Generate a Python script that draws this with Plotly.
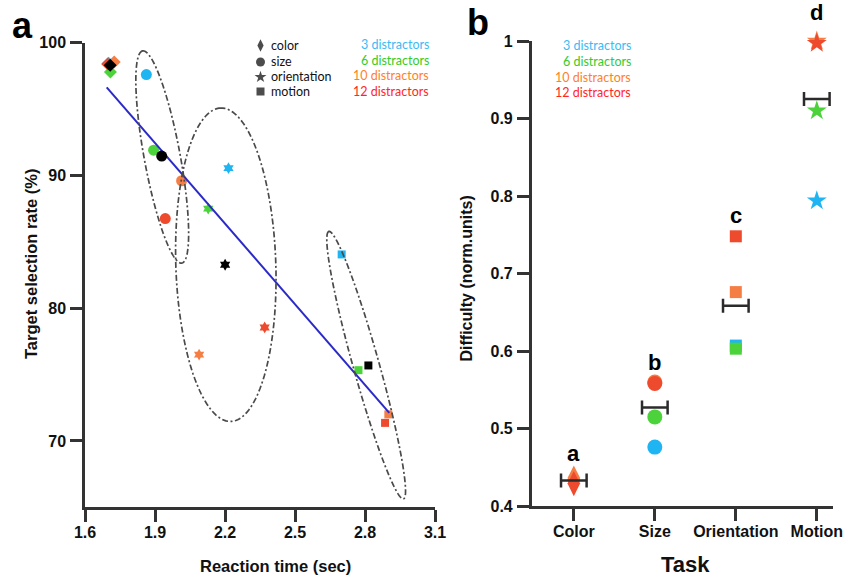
import numpy as np
import plotly.graph_objects as go

W, H = 844, 577

# ---------------- data ----------------
levels = ["3 distractors", "6 distractors", "10 distractors", "12 distractors"]
point_colors = ["#1FB5F2", "#4CD23A", "#F57E45", "#EE4A2E"]
label_colors = ["#3BBBF5", "#35CB2A", "#FF7F2A", "#FF2626"]

features = ["color", "size", "orientation", "motion"]

# panel a: reaction time (sec) per feature, ordered by distractor count
rt_color = [1.701, 1.709, 1.725, 1.697]
rt_size = [1.863, 1.894, 2.014, 1.944]
rt_orientation = [2.215, 2.128, 2.089, 2.370]
rt_motion = [2.700, 2.772, 2.900, 2.886]

# panel a: target selection rate (%) per feature, ordered by distractor count
sel_color = [98.45, 97.80, 98.55, 98.40]
sel_size = [97.60, 91.90, 89.60, 86.75]
sel_orientation = [90.55, 87.50, 76.50, 78.55]
sel_motion = [84.05, 75.33, 72.00, 71.36]

# linear trend drawn across panel a
fit_rt = [1.693, 2.904]
fit_sel = [96.64, 72.12]

# panel b: normalised difficulty per task, ordered by distractor count
tasks = ["Color", "Size", "Orientation", "Motion"]
diff_color = [0.433, 0.434, 0.436, 0.429]
diff_size = [0.476, 0.515, 0.560, 0.558]
diff_orientation = [0.607, 0.603, 0.676, 0.748]
diff_motion = [0.794, 0.910, 1.000, 0.997]
group_letters = ["a", "b", "c", "d"]
letter_y = [0.468, 0.585, 0.775, 1.037]

# ---------------- layout geometry ----------------
xa_dom = [85 / W, 435 / W]
ya_dom = [1 - 507.3 / H, 1 - 42.7 / H]
xa_rng = [1.6, 3.1]
ya_rng = [65, 100]
xb_dom = [531.7 / W, 833 / W]
yb_dom = [1 - 506 / H, 1 - 41 / H]
xb_rng = [-0.52, 3.2]
yb_rng = [0.4, 1.0]

BOLD = "Liberation Sans, Arial, sans-serif"
LIGHT = "Lato, Open Sans, sans-serif"
AX = "#333333"

rt_sets = [rt_color, rt_size, rt_orientation, rt_motion]
sel_sets = [sel_color, sel_size, sel_orientation, sel_motion]
diff_sets = [diff_color, diff_size, diff_orientation, diff_motion]
sym_a = ["diamond", "circle", "hexagram", "square"]
size_a = [10, 11, 9, 8]
sym_b = ["diamond-tall", "circle", "square", "star"]
size_b = [18, 15, 12, 15]

fig = go.Figure()

# panel a: coloured points, one trace per distractor count
for li, lvl in enumerate(levels):
    for fi in range(4):
        fig.add_trace(go.Scatter(
            x=[rt_sets[fi][li]], y=[sel_sets[fi][li]], mode="markers",
            marker=dict(symbol=sym_a[fi], size=size_a[fi], color=point_colors[li],
                        line=dict(width=0)),
            xaxis="x", yaxis="y", showlegend=False, cliponaxis=False,
            hovertemplate=f"{features[fi]}, {lvl}<br>%{{x}} s, %{{y}} %<extra></extra>"))

# regression line
fig.add_trace(go.Scatter(x=fit_rt, y=fit_sel, mode="lines",
                         line=dict(color="#2A2AC8", width=2),
                         xaxis="x", yaxis="y", showlegend=False, hoverinfo="skip"))

# black markers: per-feature mean
for fi in range(4):
    fig.add_trace(go.Scatter(
        x=[float(np.mean(rt_sets[fi]))], y=[float(np.mean(sel_sets[fi]))], mode="markers",
        marker=dict(symbol=sym_a[fi], size=size_a[fi], color="#000000", line=dict(width=0)),
        xaxis="x", yaxis="y", showlegend=False, cliponaxis=False))

# panel b: coloured points per task
for li, lvl in enumerate(levels):
    for ti in range(4):
        fig.add_trace(go.Scatter(
            x=[ti], y=[diff_sets[ti][li]], mode="markers",
            marker=dict(symbol=sym_b[ti], size=size_b[ti], color=point_colors[li],
                        line=dict(width=0)),
            xaxis="x2", yaxis="y2", showlegend=False, cliponaxis=False,
            hovertemplate=f"{tasks[ti]}, {lvl}<br>%{{y}}<extra></extra>"))

# panel b: mean of each task shown as a horizontal bar with caps
fig.add_trace(go.Scatter(
    x=list(range(4)), y=[float(np.mean(d)) for d in diff_sets], mode="markers",
    marker=dict(size=1, color="rgba(0,0,0,0)"),
    error_x=dict(type="constant", value=0.158, thickness=2.5, width=7, color="#2b2b2b"),
    xaxis="x2", yaxis="y2", showlegend=False, cliponaxis=False))

# feature-symbol key for panel a (pixel overlay axis)
key_y = [45.5, 62, 77, 91.5]
key_sym = ["diamond-tall", "circle", "star", "square"]
key_size = [9, 9, 9, 8]
fig.add_trace(go.Scatter(
    x=[260.5] * 4, y=key_y, mode="markers",
    marker=dict(symbol=key_sym, size=key_size, color="#000000", line=dict(width=0)),
    xaxis="x3", yaxis="y3", showlegend=False, hoverinfo="skip", cliponaxis=False))


# dash-dot group outlines around each feature cluster in panel a
sx = (xa_dom[1] - xa_dom[0]) * W / (xa_rng[1] - xa_rng[0])
sy = (ya_dom[1] - ya_dom[0]) * H / (ya_rng[1] - ya_rng[0])


def ellipse_path(top, bottom, half_minor, n=160):
    p1 = np.array([top[0] * sx, top[1] * sy])
    p2 = np.array([bottom[0] * sx, bottom[1] * sy])
    c = (p1 + p2) / 2
    d = p1 - p2
    a = np.linalg.norm(d) / 2
    u = d / (2 * a)
    v = np.array([-u[1], u[0]])
    t = np.linspace(0, 2 * np.pi, n)
    pts = c[None, :] + (a * np.cos(t))[:, None] * u[None, :] + (half_minor * np.sin(t))[:, None] * v[None, :]
    xs = pts[:, 0] / sx
    ys = pts[:, 1] / sy
    return "M " + " L ".join(f"{x:.5f},{y:.4f}" for x, y in zip(xs, ys)) + " Z"


outlines = [((1.847, 99.38), (2.015, 83.40), 18),
            ((2.182, 95.08), (2.225, 71.47), 50),
            ((2.645, 85.78), (2.965, 65.63), 13)]
shapes = []
for top, bottom, b in outlines:
    shapes.append(dict(type="path", xref="x", yref="y", path=ellipse_path(top, bottom, b),
                       line=dict(color="#4a4a4a", width=1.7, dash="6px,2.5px,2px,2.5px"),
                       layer="above"))

annotations = []


def txt(text, x, y, size, color="#111111", family=BOLD, bold=True, xanchor="center",
        angle=0):
    annotations.append(dict(text=text, x=x / W, y=1 - y / H, xref="paper", yref="paper",
                            showarrow=False, xanchor=xanchor, yanchor="middle",
                            textangle=angle,
                            font=dict(family=family, size=size, color=color,
                                      weight="bold" if bold else "normal")))


# panel letters
txt("a", 22.5, 26, 36, color="#000000")
txt("b", 478, 23, 36, color="#000000")

# axis titles
txt("Reaction time (sec)", 275, 566, 16.5)
txt("Target selection rate (%)", 31, 264, 16.5, angle=-90)
txt("Difficulty (norm.units)", 466.5, 279, 16, angle=-90)
txt("Task", 685, 564.5, 22)

# key texts
for fi, f in enumerate(features):
    txt(f, 269, key_y[fi], 12.5, color="#111111", family=LIGHT, bold=False, xanchor="left")
lvl_y_a = [44.5, 60.5, 75.5, 91]
lvl_y_b = [45.5, 61.5, 77.5, 92.5]
for li, lvl in enumerate(levels):
    txt(lvl, 430.5, lvl_y_a[li], 12.5, color=label_colors[li], family=LIGHT, bold=False,
        xanchor="right")
    txt(lvl, 632.5, lvl_y_b[li], 12.5, color=label_colors[li], family=LIGHT, bold=False,
        xanchor="right")

# group letters in panel b (paper coordinates so the top one is not hidden)
xb_px0 = xb_dom[0] * W
xb_scale = (xb_dom[1] - xb_dom[0]) * W / (xb_rng[1] - xb_rng[0])
yb_scale = (yb_dom[1] - yb_dom[0]) * H / (yb_rng[1] - yb_rng[0])
for ti, letter in enumerate(group_letters):
    px = xb_px0 + (ti - xb_rng[0]) * xb_scale
    py = (1 - yb_dom[0]) * H - (letter_y[ti] - yb_rng[0]) * yb_scale
    txt(letter, px, py, 22, color="#000000")

tickfont = dict(family=BOLD, size=16, color="#111111", weight="bold")
axis_common = dict(showline=True, linecolor=AX, linewidth=2.5, ticks="outside", ticklen=12,
                   tickwidth=2.5, tickcolor=AX, showgrid=False, zeroline=False,
                   tickfont=tickfont, fixedrange=True, automargin=False)

fig.update_layout(
    width=W, height=H, margin=dict(l=0, r=0, t=0, b=0, pad=0, autoexpand=False),
    paper_bgcolor="white", plot_bgcolor="rgba(0,0,0,0)", showlegend=False,
    xaxis=dict(domain=xa_dom, range=xa_rng, anchor="y",
               tickvals=[1.6, 1.9, 2.2, 2.5, 2.8, 3.1], tickformat=".1f",
               ticklabelstandoff=-3, **axis_common),
    yaxis=dict(domain=ya_dom, range=ya_rng, anchor="x",
               tickvals=[70, 80, 90, 100], ticklabelstandoff=1, **axis_common),
    xaxis2=dict(domain=xb_dom, range=xb_rng, anchor="y2",
                tickvals=[0, 1, 2, 3], ticktext=tasks, ticklabelstandoff=-3, **axis_common),
    yaxis2=dict(domain=yb_dom, range=yb_rng, anchor="x2",
                tickvals=[0.4, 0.5, 0.6, 0.7, 0.8, 0.9, 1.0],
                ticktext=["0.4", "0.5", "0.6", "0.7", "0.8", "0.9", "1"],
                ticklabelstandoff=1, **axis_common),
    xaxis3=dict(domain=[0, 1], range=[0, W], anchor="y3", visible=False, fixedrange=True,
                automargin=False),
    yaxis3=dict(domain=[0, 1], range=[H, 0], anchor="x3", visible=False, fixedrange=True,
                automargin=False),
    shapes=shapes, annotations=annotations,
)

fig.write_html("out.html", config={"displayModeBar": False})
